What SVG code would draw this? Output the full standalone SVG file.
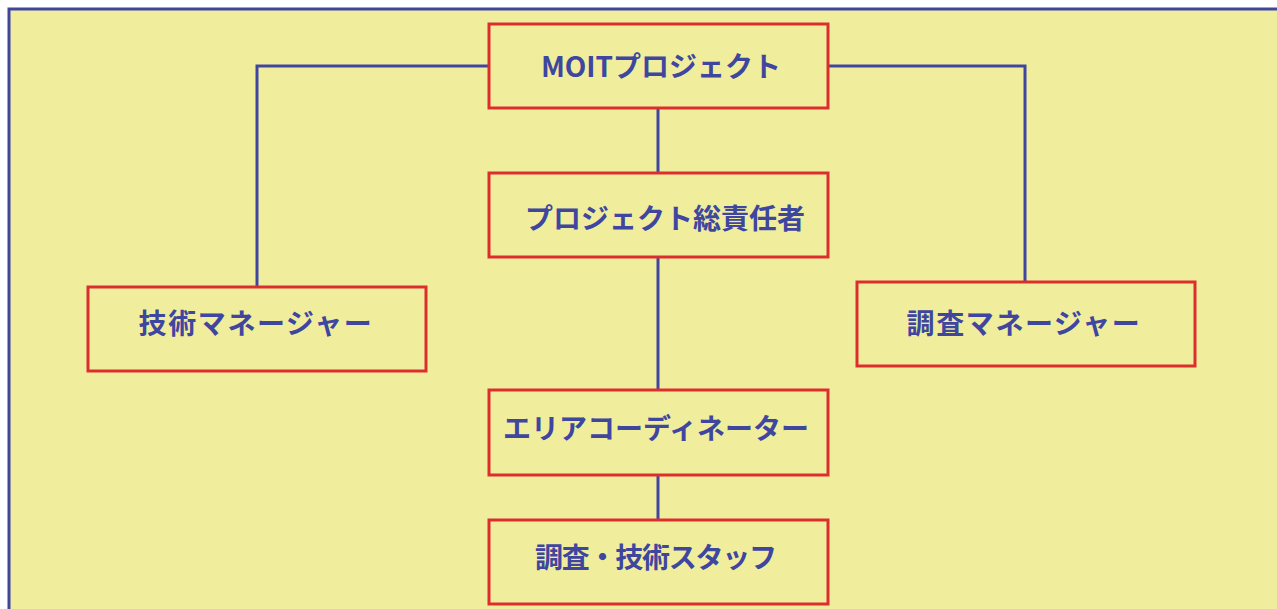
<svg xmlns="http://www.w3.org/2000/svg" width="1277" height="609" viewBox="0 0 1277 609">
<style>
.node rect{fill:#F0EE9C;stroke:#DC2E2E;stroke-width:3}
.node text{font-family:"Noto Sans CJK JP","Noto Sans",sans-serif;font-weight:bold;font-size:28px;fill:#3F46A0;text-anchor:middle;dominant-baseline:central}
.node text.wide{letter-spacing:1.6px}
#connectors path{fill:none;stroke:#3F46A0;stroke-width:3}
</style>
<rect x="0" y="0" width="1277" height="609" fill="#FFFFFF"/>
<rect x="9" y="9" width="1280" height="620" fill="#F0EE9C" stroke="#3F46A0" stroke-width="3"/>
<g id="connectors">
<path d="M489 66 H257 V286"/>
<path d="M828 66 H1025 V281"/>
<path d="M658 108 V172"/>
<path d="M658 257 V389"/>
<path d="M658 476 V519"/>
</g>
<g id="moit" class="node"><rect x="489" y="24" width="339" height="84"/><text x="661" y="65">MOITプロジェクト</text></g>
<g id="pm" class="node"><rect x="489" y="173" width="339" height="84"/><text x="665" y="217">プロジェクト総責任者</text></g>
<g id="tech" class="node"><rect x="88" y="287" width="338" height="84"/><text class="wide" x="256" y="322">技術マネージャー</text></g>
<g id="survey" class="node"><rect x="857" y="282" width="338" height="84"/><text class="wide" x="1024" y="322">調査マネージャー</text></g>
<g id="area" class="node"><rect x="489" y="390" width="339" height="85"/><text x="656" y="427">エリアコーディネーター</text></g>
<g id="staff" class="node"><rect x="489" y="520" width="339" height="84"/><text x="656" y="556" textLength="242" lengthAdjust="spacing">調査・技術スタッフ</text></g>
</svg>
